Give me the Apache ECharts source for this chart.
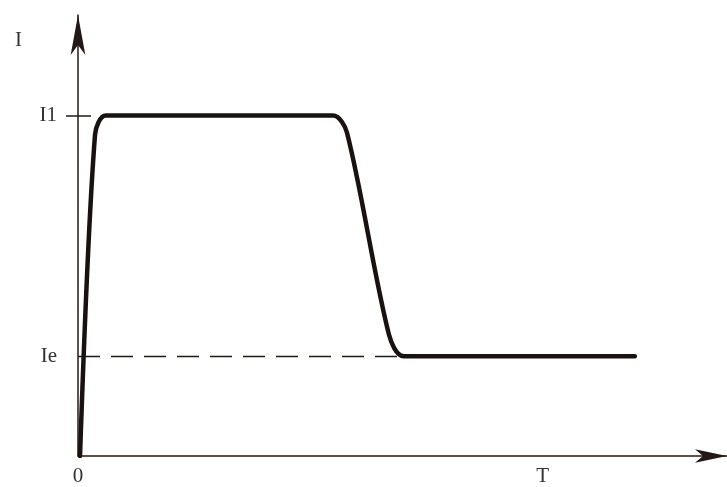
<!DOCTYPE html>
<html>
<head>
<meta charset="utf-8">
<script src="https://cdn.jsdelivr.net/npm/echarts@6/dist/echarts.min.js"></script>
<style>
html,body{margin:0;padding:0;background:#fff;}
#chart{width:727px;height:487px;}
</style>
</head>
<body>
<div id="chart"></div>
<script>
// Curve points (time, current)
var timeValues = [0.31, 2.62, 4.31, 39.3, 41.45, 47.9, 50.2, 85.8];
var currentValues = [0, 72.85, 77.2, 77.2, 73.3, 27.6, 22.6, 22.6];
// Reference levels
var levelI1 = 77.2;
var levelIe = 22.6;
var timeT = 71.6;
var yTickLabels = ['Ie', 'I1'];
var xTickLabels = ['0', 'T'];
var axisNames = ['T', 'I'];

var curve = timeValues.map(function (t, i) { return [t, currentValues[i]]; });
var serif = 'Liberation Serif';
var ink = '#231815';

var chart = echarts.init(document.getElementById('chart'));
chart.setOption({
  animation: false,
  backgroundColor: '#fff',
  grid: { left: 78, right: 0, top: 15, bottom: 30 },
  xAxis: {
    type: 'value', min: 0, max: 100,
    splitLine: { show: false },
    axisTick: { show: false },
    axisLine: {
      lineStyle: { color: ink, width: 1.5 },
      symbol: ['none', 'arrow'], symbolSize: [10, 32]
    },
    axisLabel: {
      customValues: [0, timeT],
      formatter: function (v) { return v === 0 ? xTickLabels[0] : xTickLabels[1]; },
      fontFamily: serif, fontSize: 21, color: '#333', margin: 10
    }
  },
  yAxis: {
    type: 'value', min: 0, max: 100,
    name: axisNames[1], nameLocation: 'end', nameGap: -25,
    nameTextStyle: { fontFamily: serif, fontSize: 21, color: '#333', align: 'right', verticalAlign: 'middle', padding: [0, 56, 0, 0] },
    splitLine: { show: false },
    axisTick: { show: true, customValues: [levelI1], length: 12, lineStyle: { color: ink, width: 1.5 } },
    axisLine: {
      lineStyle: { color: ink, width: 1.5 },
      symbol: ['none', 'arrow'], symbolSize: [11, 40]
    },
    axisLabel: {
      customValues: [levelIe, levelI1],
      formatter: function (v) { return v === levelIe ? yTickLabels[0] : yTickLabels[1]; },
      fontFamily: serif, fontSize: 21, color: '#333', margin: 21
    }
  },
  series: [{
    type: 'line',
    data: curve,
    smooth: 0.3,
    symbol: 'none',
    lineStyle: { color: '#1a1210', width: 4.5, cap: 'round', join: 'round' },
    z: 5,
    markLine: {
      silent: true, symbol: 'none', animation: false,
      label: { show: false },
      data: [
        [{ coord: [0, levelI1], lineStyle: { type: 'solid', color: ink, width: 1.5 } }, { coord: [2.0, levelI1] }],
        [{ coord: [0, levelIe], lineStyle: { type: [22, 11], color: ink, width: 1.3 } }, { coord: [timeValues[6], levelIe] }]
      ]
    }
  }]
});
</script>
</body>
</html>
